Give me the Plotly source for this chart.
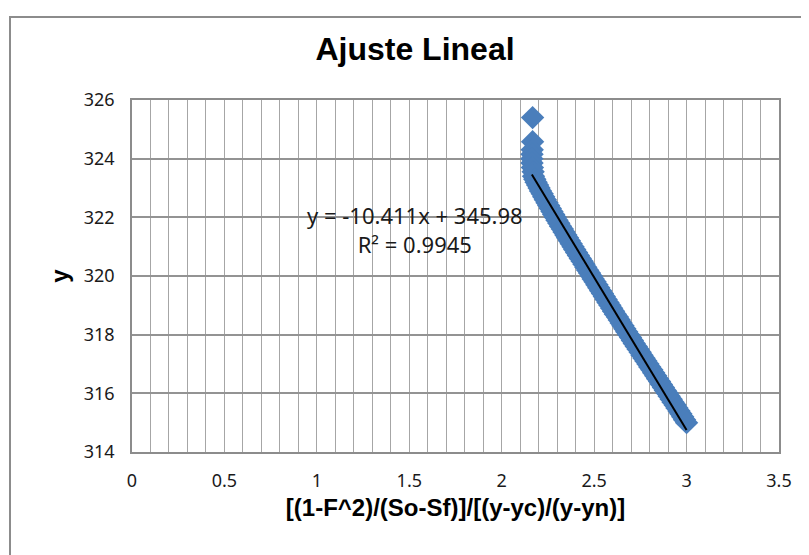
import plotly.graph_objects as go

# ---- data ----
x_vals = [2.167, 2.167, 2.165, 2.164, 2.163, 2.164, 2.166, 2.170, 2.172, 2.179,
          2.186, 2.194, 2.202, 2.210, 2.219, 2.227, 2.236, 2.245, 2.254, 2.263,
          2.272, 2.281, 2.290, 2.299, 2.309, 2.318, 2.328, 2.337, 2.347, 2.356,
          2.366, 2.376, 2.386, 2.395, 2.405, 2.415, 2.425, 2.435, 2.445, 2.455,
          2.465, 2.475, 2.485, 2.495, 2.505, 2.515, 2.525, 2.535, 2.545, 2.555,
          2.565, 2.575, 2.585, 2.595, 2.605, 2.615, 2.626, 2.636, 2.646, 2.656,
          2.666, 2.676, 2.687, 2.697, 2.707, 2.717, 2.728, 2.738, 2.749, 2.759,
          2.770, 2.780, 2.791, 2.801, 2.812, 2.822, 2.833, 2.843, 2.854, 2.864,
          2.875, 2.885, 2.896, 2.906, 2.917, 2.927, 2.938, 2.948, 2.959, 2.969,
          2.979, 2.989, 3.000]
y_vals = [325.40, 324.58, 324.30, 324.15, 324.00, 323.85, 323.70, 323.55, 323.40, 323.30,
          323.20, 323.10, 323.00, 322.90, 322.80, 322.70, 322.60, 322.50, 322.40, 322.30,
          322.20, 322.10, 322.00, 321.90, 321.80, 321.70, 321.60, 321.50, 321.40, 321.30,
          321.20, 321.10, 321.00, 320.90, 320.80, 320.70, 320.60, 320.50, 320.40, 320.30,
          320.20, 320.10, 320.00, 319.90, 319.80, 319.70, 319.60, 319.50, 319.40, 319.30,
          319.20, 319.10, 319.00, 318.90, 318.80, 318.70, 318.60, 318.50, 318.40, 318.30,
          318.20, 318.10, 318.00, 317.90, 317.80, 317.70, 317.60, 317.50, 317.40, 317.30,
          317.20, 317.10, 317.00, 316.90, 316.80, 316.70, 316.60, 316.50, 316.40, 316.30,
          316.20, 316.10, 316.00, 315.90, 315.80, 315.70, 315.60, 315.50, 315.40, 315.30,
          315.20, 315.10, 315.00]

trend_slope = -10.411
trend_intercept = 345.98
r_squared = 0.9945

x_tick_vals = [0, 0.5, 1, 1.5, 2, 2.5, 3, 3.5]
x_tick_text = ["0", "0.5", "1", "1.5", "2", "2.5", "3", "3.5"]
y_tick_vals = [314, 316, 318, 320, 322, 324, 326]

title_text = "Ajuste Lineal"
x_title = "[(1-F^2)/(So-Sf)]/[(y-yc)/(y-yn)]"
y_title = "y"

# trendline over the data range
tx = [min(x_vals), max(x_vals)]
ty = [trend_slope * v + trend_intercept for v in tx]

fig = go.Figure()
fig.add_trace(go.Scatter(
    x=x_vals, y=y_vals, mode="markers",
    marker=dict(symbol="diamond", size=18, color="#4A7EBB", line=dict(width=0)),
    showlegend=False, hoverinfo="x+y"))
fig.add_trace(go.Scatter(
    x=tx, y=ty, mode="lines", line=dict(color="black", width=2),
    showlegend=False, hoverinfo="skip"))

eq_text = "y = %gx + %g<br>R² = %g" % (trend_slope, trend_intercept, r_squared)
fig.add_annotation(x=1.531, y=321.57, xref="x", yref="y", text=eq_text,
                   showarrow=False, align="center",
                   font=dict(family="Noto Sans", size=22, color="#1a1a1a"))

# page body has an 8px margin: figure is 801x547 so it fills the 809x555 window
W, H = 801, 547
grid_col = "#A6A6A6"
fig.update_layout(
    width=W, height=H,
    margin=dict(l=124, r=30, t=92, b=103),
    paper_bgcolor="white", plot_bgcolor="white",
    title=dict(text="<b>%s</b>" % title_text, x=407 / W, xanchor="center",
               y=1 - 41 / H, yanchor="middle", yref="container",
               font=dict(family="Liberation Sans", size=32, color="black")),
    xaxis=dict(range=[0, 3.5], tickvals=x_tick_vals, ticktext=x_tick_text,
               showgrid=True, gridcolor=grid_col, gridwidth=1,
               minor=dict(dtick=0.1, showgrid=True, gridcolor=grid_col, gridwidth=1),
               showline=True, linecolor="#8C8C8C", linewidth=1.5, mirror=True,
               zeroline=False, ticks="", ticklabelstandoff=12,
               tickfont=dict(family="Noto Sans", size=18, color="#1a1a1a"),
               title=dict(text="<b>%s</b>" % x_title, standoff=8,
                          font=dict(family="Liberation Sans", size=24, color="black"))),
    yaxis=dict(range=[314, 326], tickvals=y_tick_vals,
               showgrid=True, gridcolor="#939393", gridwidth=1.5,
               showline=True, linecolor="#8C8C8C", linewidth=1.5, mirror=True,
               zeroline=False, ticks="", ticklabelstandoff=12,
               tickfont=dict(family="Noto Sans", size=18, color="#1a1a1a"),
               title=dict(text="<b>%s</b>" % y_title, standoff=8,
                          font=dict(family="Liberation Sans", size=24, color="black"))),
)

# outer chart frame (partially cropped in the reference)
fig.add_shape(type="rect", xref="paper", yref="paper",
              x0=(2 - 124) / 647, x1=(830 - 124) / 647,
              y0=(444 - 600) / 352, y1=(444 - 9) / 352,
              line=dict(color="#8C8C8C", width=2), fillcolor="rgba(0,0,0,0)",
              layer="below")

fig.write_html("out.html")
